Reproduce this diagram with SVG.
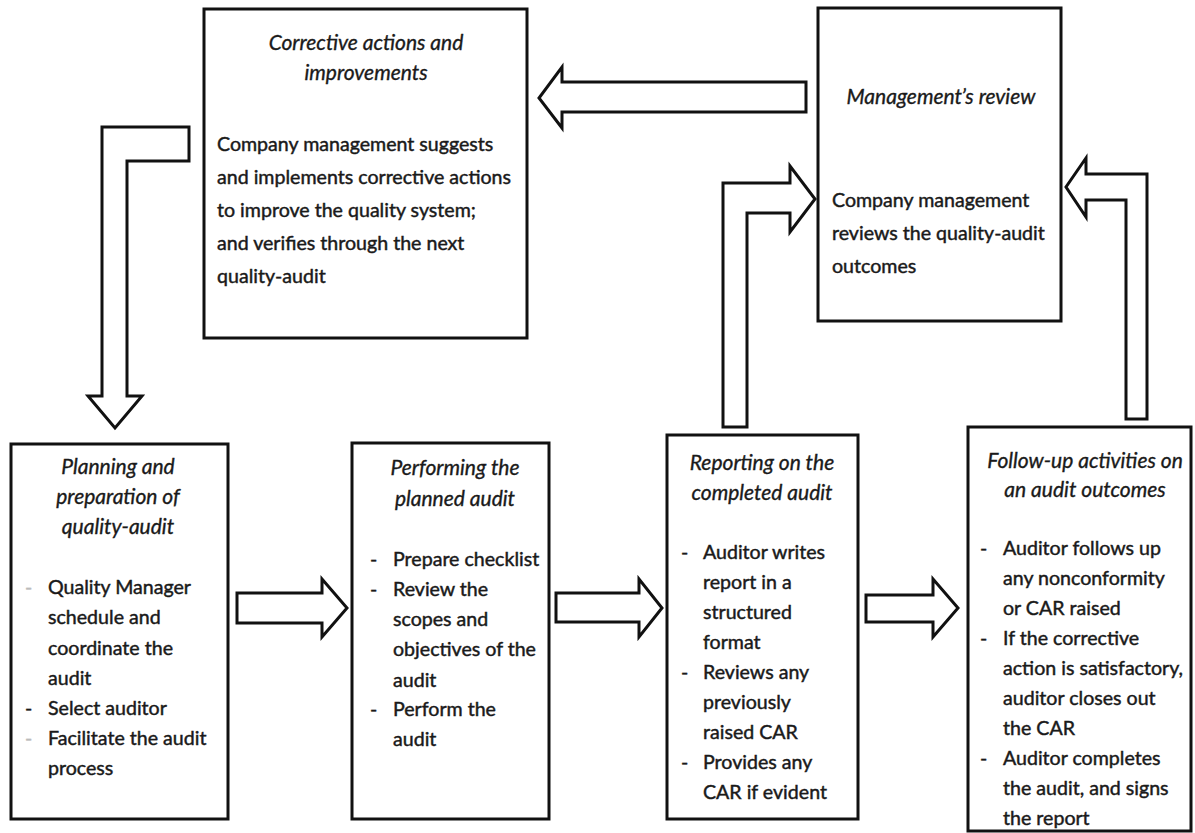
<svg xmlns="http://www.w3.org/2000/svg" width="1195" height="833" viewBox="0 0 1195 833">
<style>
.box{fill:#fff;stroke:#111;stroke-width:3}
.arr{fill:#fff;stroke:#111;stroke-width:3;stroke-linejoin:miter}
text{font-family:Lato,"Liberation Sans",sans-serif;font-size:19.6px;fill:#1a1a1a;stroke:#1a1a1a;stroke-width:0.45px}
.t{font-style:italic;text-anchor:middle;font-size:21px;stroke-width:0.35px}
.fd{fill:#bbb;stroke:#bbb}
</style>
<rect width="1195" height="833" fill="#fff"/>
<g id="connectors">
<polygon class="arr" points="189,127 102,127 102,396 88,396 115,428 142,396 127,396 127,161 189,161"/>
<polygon class="arr" points="806,82 562,82 562,67 539,98 562,128 562,112 806,112"/>
<polygon class="arr" points="723,427 723,183 790,183 790,166 815,199 790,232 790,213 747,213 747,427"/>
<polygon class="arr" points="1147,419 1147,174 1086,174 1086,158 1066,187 1086,217 1086,200 1126,200 1126,419"/>
<polygon class="arr" points="237,593 322,593 322,579 347,608 322,637 322,623 237,623"/>
<polygon class="arr" points="556,593 639,593 639,579 662,608 639,637 639,622 556,622"/>
<polygon class="arr" points="866,595 933,595 933,579 958,608 933,637 933,622 866,622"/>
</g>
<g id="corrective">
<rect class="box" x="204" y="9" width="323" height="329"/>
<text class="t" x="366" y="50">Corrective actions and</text>
<text class="t" x="366" y="80">improvements</text>
<text x="217" y="151">Company management suggests</text>
<text x="217" y="184">and implements corrective actions</text>
<text x="217" y="217">to improve the quality system;</text>
<text x="217" y="250">and verifies through the next</text>
<text x="217" y="283">quality-audit</text>
</g>
<g id="management">
<rect class="box" x="818" y="8" width="243" height="313"/>
<text class="t" x="941" y="104">Management’s review</text>
<text x="832" y="207">Company management</text>
<text x="832" y="240">reviews the quality-audit</text>
<text x="832" y="273">outcomes</text>
</g>
<g id="planning">
<rect class="box" x="11" y="444" width="217" height="375"/>
<text class="t" x="118" y="474">Planning and</text>
<text class="t" x="118" y="504">preparation of</text>
<text class="t" x="118" y="534">quality-audit</text>
<text class="fd" x="25" y="594">-</text>
<text x="48" y="594">Quality Manager</text>
<text x="48" y="624">schedule and</text>
<text x="48" y="655">coordinate the</text>
<text x="48" y="685">audit</text>
<text x="25" y="715">-</text>
<text x="48" y="715">Select auditor</text>
<text class="fd" x="25" y="745">-</text>
<text x="48" y="745">Facilitate the audit</text>
<text x="48" y="775">process</text>
</g>
<g id="performing">
<rect class="box" x="352" y="443" width="197" height="376"/>
<text class="t" x="455" y="475">Performing the</text>
<text class="t" x="455" y="506">planned audit</text>
<text x="370" y="566">-</text>
<text x="393" y="566">Prepare checklist</text>
<text x="370" y="596">-</text>
<text x="393" y="596">Review the</text>
<text x="393" y="626">scopes and</text>
<text x="393" y="656">objectives of the</text>
<text x="393" y="687">audit</text>
<text x="370" y="716">-</text>
<text x="393" y="716">Perform the</text>
<text x="393" y="746">audit</text>
</g>
<g id="reporting">
<rect class="box" x="667" y="435" width="191" height="384"/>
<text class="t" x="762" y="470">Reporting on the</text>
<text class="t" x="762" y="500">completed audit</text>
<text x="681" y="559">-</text>
<text x="703" y="559">Auditor writes</text>
<text x="703" y="589">report in a</text>
<text x="703" y="619">structured</text>
<text x="703" y="649">format</text>
<text x="681" y="679">-</text>
<text x="703" y="679">Reviews any</text>
<text x="703" y="709">previously</text>
<text x="703" y="739">raised CAR</text>
<text x="681" y="769">-</text>
<text x="703" y="769">Provides any</text>
<text x="703" y="799">CAR if evident</text>
</g>
<g id="followup">
<rect class="box" x="968" y="427" width="223" height="404"/>
<text class="t" x="1085" y="468">Follow-up activities on</text>
<text class="t" x="1085" y="497">an audit outcomes</text>
<text x="980" y="555">-</text>
<text x="1003" y="555">Auditor follows up</text>
<text x="1003" y="585">any nonconformity</text>
<text x="1003" y="615">or CAR raised</text>
<text x="980" y="645">-</text>
<text x="1003" y="645">If the corrective</text>
<text x="1003" y="675">action is satisfactory,</text>
<text x="1003" y="705">auditor closes out</text>
<text x="1003" y="735">the CAR</text>
<text x="980" y="765">-</text>
<text x="1003" y="765">Auditor completes</text>
<text x="1003" y="795">the audit, and signs</text>
<text x="1003" y="825">the report</text>
</g>
</svg>
